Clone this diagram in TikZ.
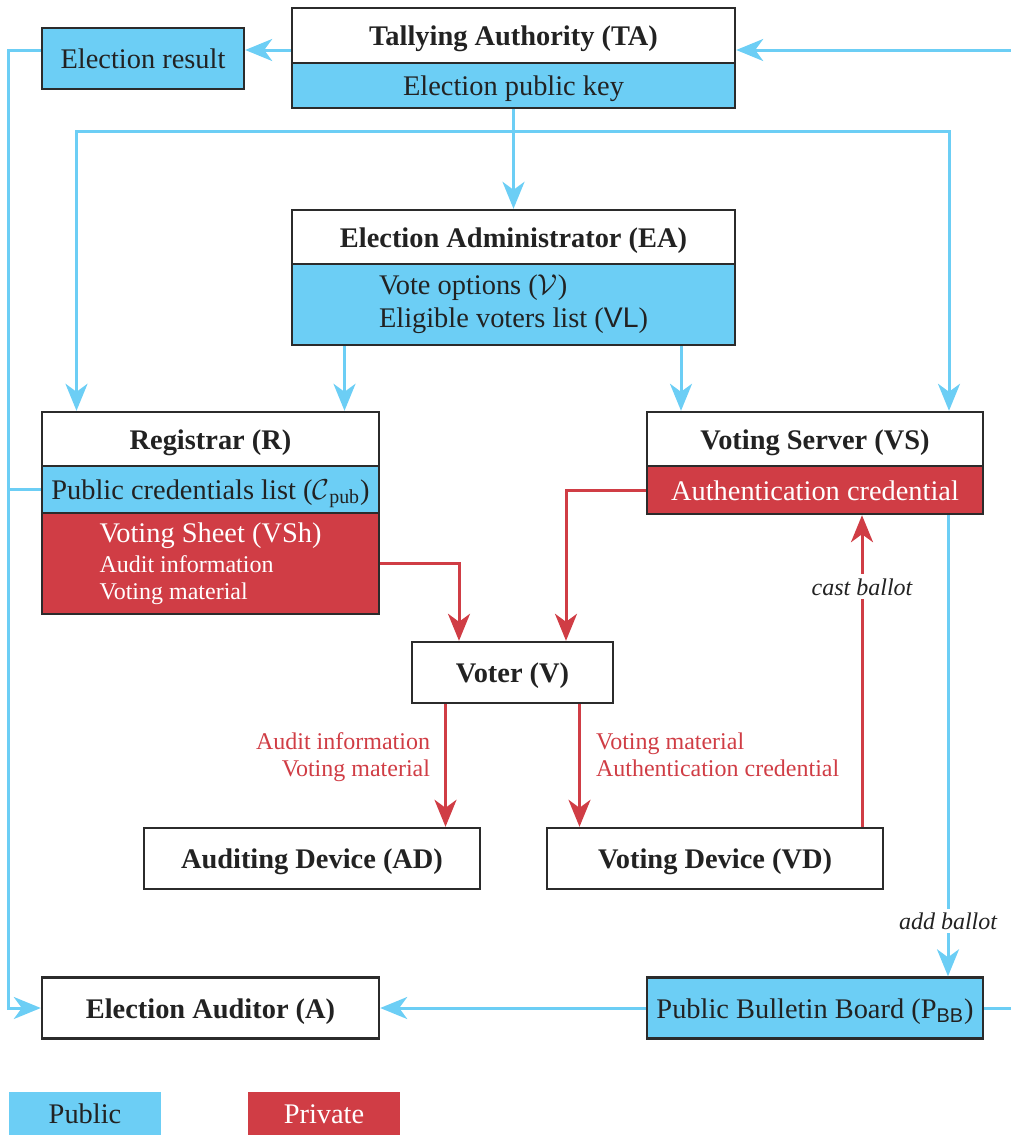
\documentclass[tikz,border=0pt]{standalone}
\usepackage{fontspec}
\setmainfont{Liberation Serif}
\setsansfont{Liberation Sans}
\usetikzlibrary{arrows.meta, calc, positioning}
\definecolor{pubblue}{HTML}{6CCEF5}
\definecolor{privred}{HTML}{D03D45}
\definecolor{boxline}{HTML}{2B2B2B}
\definecolor{inkgray}{HTML}{222222}
\newcommand{\diagfont}{\fontsize{14.2}{16.5}\selectfont}
\newcommand{\flowfont}{\fontsize{12}{13.5}\selectfont}

\begin{document}
\begin{tikzpicture}[x=0.5pt, y=-0.5pt, >={Stealth[length=13.5pt,width=11pt,inset=4pt]},
    font=\diagfont, text=inkgray,
    frame/.style={draw=boxline, line width=1.2pt, inner sep=0pt},
    oneline/.style={text height=12pt, text depth=2pt},
    ent/.style={frame, oneline, fill=white, font=\diagfont\bfseries},
    pubblock/.style={frame, fill=pubblue},
    privblock/.style={frame, fill=privred, text=white},
    pubpart/.style={pubblock, oneline},
    privpart/.style={privblock, oneline},
    pub/.style={draw=pubblue, line width=1.5pt},
    priv/.style={draw=privred, line width=1.5pt},
    flow/.style={font=\flowfont, text=privred, inner sep=0pt},
    act/.style={font=\flowfont\itshape, text=inkgray, fill=white, inner sep=2pt}]

  \useasboundingbox (0,0) rectangle (1011,1135);
  \clip (0,0) rectangle (1011,1135);

  % tallying authority
  \node[ent, minimum width=221.5pt, minimum height=27.5pt] (ta) at (513.5,35.5) {Tallying Authority (TA)};
  \node[pubpart, minimum width=221.5pt, minimum height=22.5pt] (taKey) at (513.5,85.5) {Election public key};
  \node[pubpart, minimum width=101pt, minimum height=30.5pt] (res) at (143,58.5) {Election result};

  % election administrator
  \node[ent, minimum width=221.5pt, minimum height=27pt] (ea) at (513.5,237) {Election Administrator (EA)};
  \node[pubblock, minimum width=221.5pt, minimum height=40.5pt, align=left] (eaData) at (513.5,304.5)
    {Vote options (\(\mathcal{V}\))\\Eligible voters list (\textsf{VL})};

  % registrar
  \node[ent, minimum width=168.5pt, minimum height=27pt] (reg) at (210.5,439) {Registrar (R)};
  \node[pubpart, minimum width=168.5pt, minimum height=23.5pt] (regPub) at (210.5,489.5)
    {Public credentials list (\(\mathcal{C}\)\textsubscript{pub})};
  \node[privblock, minimum width=168.5pt, minimum height=50.5pt, align=left, font=\flowfont] (regSheet) at (210.5,563.5)
    {{\diagfont Voting Sheet (VSh)}\\[1.5pt]Audit information\\Voting material};

  % voting server
  \node[ent, minimum width=168pt, minimum height=27pt] (vs) at (815,439) {Voting Server (VS)};
  \node[privpart, minimum width=168pt, minimum height=24pt] (vsCred) at (815,490) {Authentication credential};

  % voter and devices
  \node[ent, minimum width=100.5pt, minimum height=30.5pt] (voter) at (512.5,672.5) {Voter (V)};
  \node[ent, minimum width=168pt, minimum height=30.5pt] (ad) at (312,858.5) {Auditing Device (AD)};
  \node[ent, minimum width=168pt, minimum height=30.5pt] (vd) at (715,858.5) {Voting Device (VD)};

  % auditor and bulletin board
  \node[ent, minimum width=168.5pt, minimum height=30.5pt] (aud) at (210.5,1008) {Election Auditor (A)};
  \node[pubpart, minimum width=168pt, minimum height=30.5pt] (pbb) at (815,1008)
    {Public Bulletin Board (P\textsubscript{\textsf{BB}})};

  % legend
  \node[fill=pubblue, oneline, inner sep=0pt, minimum width=76pt, minimum height=21.5pt] (legPub) at (85,1113.5) {Public};
  \node[fill=privred, oneline, text=white, inner sep=0pt, minimum width=76pt, minimum height=21.5pt] (legPriv) at (324,1113.5) {Private};

  \coordinate (taIn) at ([shift={(0,14.5)}]ta.east);
  \coordinate (taOut) at ([shift={(0,14.5)}]ta.west);
  \coordinate (fork) at ([shift={(0,22)}]taKey.south);
  \coordinate (regInL) at ([shift={(-134,0)}]reg.north);
  \coordinate (regInR) at ([shift={(134,0)}]reg.north);
  \coordinate (vsInL) at ([shift={(-134,0)}]vs.north);
  \coordinate (vsInR) at ([shift={(134,0)}]vs.north);
  \coordinate (voterInL) at ([shift={(-53.5,0)}]voter.north);
  \coordinate (voterInR) at ([shift={(53.5,0)}]voter.north);
  \coordinate (voterOutL) at ([shift={(-67,0)}]voter.south);
  \coordinate (voterOutR) at ([shift={(67,0)}]voter.south);
  \coordinate (vdOut) at ([shift={(147,0)}]vd.north);
  \coordinate (vsOut) at ([shift={(133,0)}]vsCred.south);

  % public flows
  \draw[pub,->] (taOut) -- (taOut -| res.east);
  \draw[pub,->] (pbb.east) -- ++(45,0) |- (taIn);
  \draw[pub,->] (taOut -| res.west) -- ++(-32,0) |- (aud.west);
  \draw[pub] (regPub.west) -- ++(-32,0);
  \draw[pub,->] (taKey.south) -- (ea.north);
  \draw[pub,->] (fork) -| (regInL);
  \draw[pub,->] (fork) -| (vsInR);
  \draw[pub,->] (eaData.south -| regInR) -- (regInR);
  \draw[pub,->] (eaData.south -| vsInL) -- (vsInL);
  \draw[pub,->] (vsOut) -- (vsOut |- pbb.north) node[act, pos=0.88] {add ballot};
  \draw[pub,->] (pbb.west) -- (aud.east);

  % private flows
  \draw[priv,->] (regSheet.east) -| (voterInL);
  \draw[priv,->] (vsCred.west) -| (voterInR);
  \draw[priv,->] (voterOutL) -- (voterOutL |- ad.north)
    node[flow, pos=0.43, left=7pt, align=right] {Audit information\\Voting material};
  \draw[priv,->] (voterOutR) -- (voterOutR |- vd.north)
    node[flow, pos=0.41, right=7.5pt, align=left] {Voting material\\Authentication credential};
  \draw[priv,->] (vdOut) -- (vdOut |- vsCred.south) node[act, pos=0.77] {cast ballot};

\end{tikzpicture}
\end{document}
